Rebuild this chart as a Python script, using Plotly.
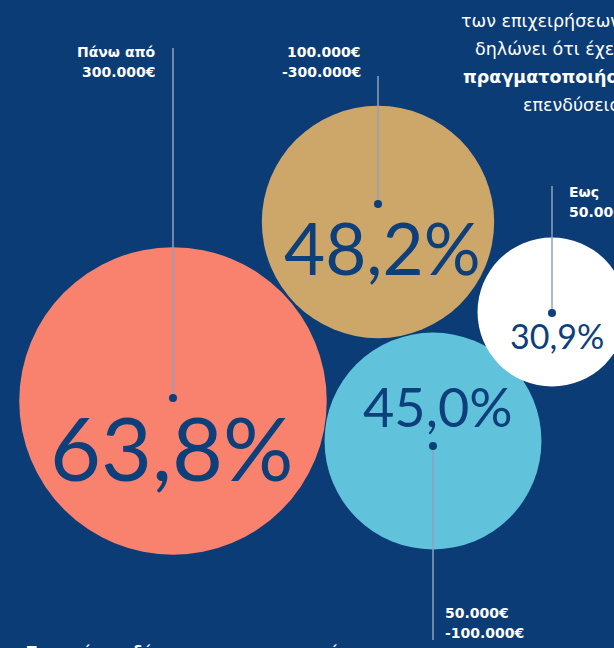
import plotly.graph_objects as go

# Data
categories = [["Πάνω από", "300.000€"], ["100.000€", "-300.000€"], ["50.000€", "-100.000€"], ["Εως", "50.000€"]]
values = [63.8, 48.2, 45.0, 30.9]
value_labels = ["63,8%", "48,2%", "45,0%", "30,9%"]
colors = ["#f9826f", "#cda76a", "#61c2dc", "#ffffff"]
headline = ["των επιχειρήσεων", "δηλώνει ότι έχει", "<b>πραγματοποιήσει</b>", "επενδύσεις"]

# Layout (pixel-space positions)
cx = [173, 378, 433, 552]
cy = [401, 222, 441, 312]
dot_y = [398, 204, 446, 313]
text_x = [172, 382, 438, 557]
text_y = [447, 247, 406, 335]
text_size = [88, 71, 54, 34]
line_end = [48, 76, 640, 186]
label_x = [158, 363, 443, 567]
label_y = [52, 52, 613, 192]
label_anchor = ["right", "right", "left", "left"]
headline_x = [459, 473, 461, 521]
headline_y = [21, 49, 77, 105]

BG = "#0b3c76"
TXT = "#0d3f7a"
LINE = "#8fa0bb"
SCALE = 4.82  # px diameter per percentage point

fig = go.Figure()

# bubbles
fig.add_trace(go.Scatter(
    x=cx, y=cy, mode="markers",
    marker=dict(size=[v * SCALE for v in values], sizemode="diameter",
                color=colors, line=dict(width=0), opacity=1),
    hoverinfo="skip", showlegend=False))

# leader lines
for i in range(len(values)):
    fig.add_trace(go.Scatter(
        x=[cx[i], cx[i]], y=[dot_y[i], line_end[i]], mode="lines",
        line=dict(color=LINE, width=1.5), hoverinfo="skip", showlegend=False))

# dots
fig.add_trace(go.Scatter(
    x=cx, y=dot_y, mode="markers",
    marker=dict(size=8, color=TXT, line=dict(width=0)),
    hoverinfo="skip", showlegend=False))

# percentage texts
for i in range(len(values)):
    fig.add_annotation(x=text_x[i], y=text_y[i], text=value_labels[i], showarrow=False,
                       xanchor="center", yanchor="middle",
                       font=dict(family="Lato", size=text_size[i], color=TXT))

# category labels (two lines each)
for i in range(len(values)):
    for j, line in enumerate(categories[i]):
        fig.add_annotation(x=label_x[i], y=label_y[i] + j * 20, text="<b>" + line + "</b>",
                           showarrow=False, xanchor=label_anchor[i], yanchor="middle",
                           align=label_anchor[i],
                           font=dict(family="DejaVu Sans", size=14, color="white"))

# headline text (top right)
for j, line in enumerate(headline):
    fig.add_annotation(x=headline_x[j], y=headline_y[j], text=line,
                       showarrow=False, xanchor="left", yanchor="middle", align="left",
                       font=dict(family="DejaVu Sans", size=17.5, color="white"))

# bottom caption (cut off)
fig.add_annotation(x=25, y=641, text="<b>Το ποσό επενδύσεων που πραγματοποίησε</b>",
                   showarrow=False, xanchor="left", yanchor="top", align="left",
                   font=dict(family="DejaVu Sans", size=14, color="white"))

fig.update_layout(
    width=614, height=648,
    margin=dict(l=0, r=0, t=0, b=0),
    paper_bgcolor=BG, plot_bgcolor=BG,
    xaxis=dict(range=[0, 614], visible=False, fixedrange=True),
    yaxis=dict(range=[648, 0], visible=False, fixedrange=True),
)

fig.write_html("out.html", config={"displayModeBar": False},
               post_script="document.body.style.margin='0';document.body.style.overflow='hidden';")
